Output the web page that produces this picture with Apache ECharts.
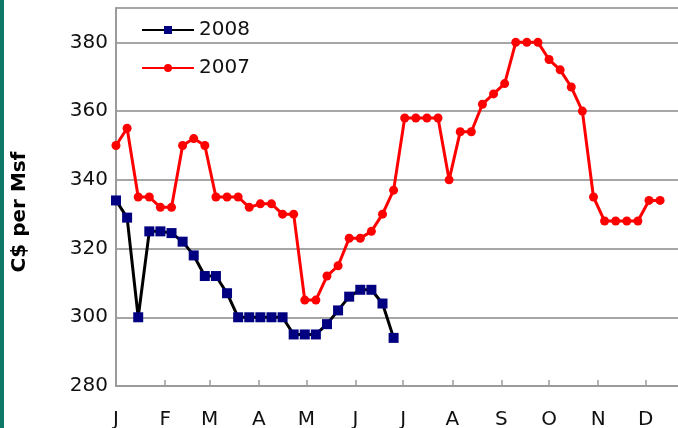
<!DOCTYPE html>
<html>
<head>
<meta charset="utf-8">
<script src="https://cdn.jsdelivr.net/npm/echarts@6/dist/echarts.min.js"></script>
<style>
    html, body { margin: 0; padding: 0; background: #fff; }
    #priceView { width: 678px; height: 428px; }
</style>
</head>
<body>
<div id="priceView"></div>
<script>
    // 月份刻度（一年中的天数）
    let monthStarts = [0, 31, 59, 90, 120, 151, 181, 212, 243, 273, 304, 334];
    let monthLetters = ['J', 'F', 'M', 'A', 'M', 'J', 'J', 'A', 'S', 'O', 'N', 'D'];
    let yTicks = [280, 300, 320, 340, 360, 380];

    // 每周价格
    let price2008 = [334, 329, 300, 325, 325, 324.5, 322, 318, 312, 312, 307, 300, 300, 300, 300, 300,
        295, 295, 295, 298, 302, 306, 308, 308, 304, 294];
    let price2007 = [350, 355, 335, 335, 332, 332, 350, 352, 350, 335, 335, 335, 332, 333, 333, 330,
        330, 305, 305, 312, 315, 323, 323, 325, 330, 337, 358, 358, 358, 358, 340, 354,
        354, 362, 365, 368, 380, 380, 380, 375, 372, 367, 360, 335, 328, 328, 328, 328,
        334, 334];

    let fontFamily = '"DejaVu Sans", "Liberation Sans", sans-serif';

    function toWeekly(values) {
        let data = [];
        for (let i = 0; i < values.length; i++) {
            data[i] = [i * 7, values[i]];
        }
        return data;
    }

    let chartDom = document.getElementById('priceView');
    let myChart = echarts.init(chartDom);

    let option = {
        animation: false,
        graphic: [
            {
                type: 'rect',
                left: 0,
                top: 0,
                shape: {width: 4, height: 428},
                style: {fill: '#0f7866'}
            }
        ],
        legend: {
            data: ['2008', '2007'],
            orient: 'vertical',
            left: 136,
            top: 15,
            itemWidth: 52,
            itemHeight: 10,
            itemGap: 18,
            textStyle: {
                fontFamily: fontFamily,
                fontSize: 20,
                color: '#111'
            }
        },
        grid: {
            left: 116,
            right: -17,
            top: 8,
            bottom: 42,
            outerBoundsMode: 'none'
        },
        xAxis: {
            type: 'value',
            min: 0,
            max: 365,
            splitLine: {show: false},
            axisLine: {lineStyle: {color: '#9a9a9a', width: 2}},
            axisTick: {
                show: true,
                inside: true,
                length: 6,
                customValues: monthStarts,
                lineStyle: {color: '#9a9a9a', width: 1.5}
            },
            axisLabel: {
                customValues: monthStarts,
                margin: 24,
                fontFamily: fontFamily,
                fontSize: 20,
                color: '#111',
                formatter: function (value) {
                    let idx = monthStarts.indexOf(value);
                    return idx >= 0 ? monthLetters[idx] : '';
                }
            }
        },
        yAxis: {
            type: 'value',
            min: yTicks[0],
            max: 390,
            interval: 20,
            name: 'C$ per Msf',
            nameLocation: 'middle',
            nameGap: 86,
            nameTextStyle: {
                fontFamily: fontFamily,
                fontSize: 20,
                fontWeight: 'bold',
                color: '#000',
                padding: [0, 30, 0, 0]
            },
            axisLine: {show: true, lineStyle: {color: '#9a9a9a', width: 2}},
            axisTick: {show: false},
            splitLine: {lineStyle: {color: '#a6a6a6', width: 2}},
            axisLabel: {
                showMaxLabel: false,
                margin: 8,
                fontFamily: fontFamily,
                fontSize: 20,
                color: '#111'
            }
        },
        series: [
            {
                name: '2008',
                type: 'line',
                data: toWeekly(price2008),
                symbol: 'rect',
                symbolSize: 10,
                itemStyle: {color: '#000080'},
                lineStyle: {color: '#000', width: 3},
                z: 3
            },
            {
                name: '2007',
                type: 'line',
                data: toWeekly(price2007),
                symbol: 'circle',
                symbolSize: 9,
                itemStyle: {color: '#ff0000'},
                lineStyle: {color: '#ff0000', width: 3},
                z: 2
            }
        ]
    };

    myChart.setOption(option);
</script>
</body>
</html>
